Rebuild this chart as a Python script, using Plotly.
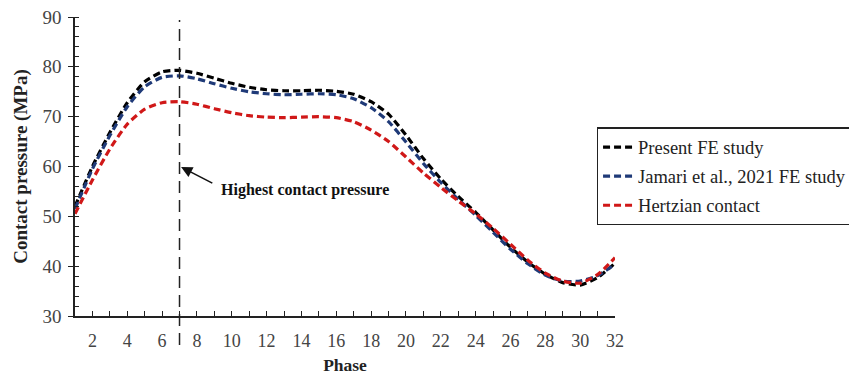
import plotly.graph_objects as go

# Phase index and contact pressure (MPa) for each model
phase = list(range(1, 33))

present_fe = [52.0, 60.0, 66.8, 72.8, 77.0, 79.0, 79.3, 78.7, 77.7, 76.7, 75.9, 75.4,
              75.2, 75.2, 75.3, 75.1, 74.5, 73.0, 70.5, 66.3, 61.6, 57.5, 54.0, 50.8,
              47.3, 43.8, 40.8, 38.4, 36.7, 36.2, 37.7, 40.6]
jamari_fe = [51.5, 59.5, 66.2, 72.0, 76.0, 77.9, 78.2, 77.6, 76.6, 75.7, 75.0, 74.6,
             74.4, 74.5, 74.6, 74.4, 73.6, 71.8, 69.0, 64.9, 60.6, 56.8, 53.4, 50.2,
             46.8, 43.4, 40.5, 38.2, 37.0, 37.0, 38.1, 40.4]
hertzian = [50.5, 57.3, 63.5, 68.5, 71.5, 72.8, 73.0, 72.5, 71.6, 70.8, 70.2, 69.9,
            69.8, 69.9, 70.0, 69.8, 69.0, 67.3, 65.0, 61.9, 58.7, 55.8, 53.1, 50.5,
            47.6, 44.4, 41.2, 38.6, 37.0, 36.6, 38.3, 41.7]

series_names = ["Present FE study", "Jamari et al., 2021 FE study", "Hertzian contact"]
series_colors = ["#000000", "#1f3a78", "#d01818"]
peak_phase = 7

SERIF = "Liberation Serif"

fig = go.Figure()
for i, (name, vals, col) in enumerate(zip(series_names, [present_fe, jamari_fe, hertzian], series_colors)):
    fig.add_trace(go.Scatter(
        x=phase, y=vals, name=name, mode="lines", legendgroup=f"g{i}",
        line=dict(color=col, width=3.2, dash="7px,4px", shape="spline", smoothing=0.6),
    ))

# cross-tick overlay axes (inside half of the major ticks)
fig.add_trace(go.Scatter(x=[None], y=[None], xaxis="x2", yaxis="y2", showlegend=False))

# marker for the phase of highest contact pressure
fig.add_shape(type="line", xref="x", yref="paper", x0=peak_phase, x1=peak_phase,
              y0=-0.097, y1=0.99, line=dict(color="#222222", width=1.5, dash="12px,7px"))

fig.add_annotation(x=7.09, y=59.9, ax=8.97, ay=56.5, xref="x", yref="y", axref="x", ayref="y",
                   text="", showarrow=True, arrowhead=2, arrowsize=1.4, arrowwidth=1.6,
                   arrowcolor="#111111")
fig.add_annotation(x=9.25, y=55.3, xref="x", yref="y", xanchor="left", yanchor="middle",
                   text="<b>Highest contact pressure</b>", showarrow=False,
                   font=dict(family=SERIF, size=16, color="#111111"))

fig.update_layout(
    width=849, height=377,
    margin=dict(l=75, r=234, t=17, b=61, autoexpand=False),
    paper_bgcolor="white", plot_bgcolor="white",
    font=dict(family=SERIF, color="#333333"),
    showlegend=True,
    legend=dict(xref="container", yref="container", x=0.703, y=0.662,
                xanchor="left", yanchor="top",
                bordercolor="#222222", borderwidth=1.2, bgcolor="white",
                font=dict(family=SERIF, size=18.5, color="#222222"),
                tracegroupgap=2, itemwidth=30),
    xaxis=dict(range=[1, 32], tickmode="linear", tick0=2, dtick=2, automargin=False,
               ticks="inside", ticklen=5, tickwidth=1.4, tickcolor="#222222",
               minor=dict(dtick=1, tick0=1, ticks="inside", ticklen=5, tickwidth=1.4, tickcolor="#222222"),
               showline=True, linecolor="#222222", linewidth=1.6, showgrid=False, zeroline=False,
               tickfont=dict(family=SERIF, size=18, color="#444444"), ticklabelstandoff=8,
               title=dict(text="<b>Phase</b>", font=dict(family=SERIF, size=17.5, color="#222222"), standoff=8)),
    yaxis=dict(range=[30, 90], tickmode="linear", tick0=30, dtick=10, automargin=False,
               ticks="outside", ticklen=5, tickwidth=1.4, tickcolor="#222222",
               minor=dict(dtick=2, ticks="inside", ticklen=4, tickwidth=1.4, tickcolor="#222222"),
               showline=True, linecolor="#222222", linewidth=1.6, showgrid=False, zeroline=False,
               tickfont=dict(family=SERIF, size=19, color="#444444"), ticklabelstandoff=3,
               title=dict(text="<b>Contact pressure (MPa)</b>", font=dict(family=SERIF, size=19, color="#222222"), standoff=10)),
    xaxis2=dict(range=[1, 32], overlaying="x", showticklabels=False, automargin=False,
                showgrid=False, zeroline=False, showline=False, ticks=""),
    yaxis2=dict(range=[30, 90], overlaying="y", tickmode="linear", tick0=30, dtick=10, automargin=False,
                ticks="inside", ticklen=4, tickwidth=1.4, tickcolor="#222222",
                showticklabels=False, showgrid=False, zeroline=False, showline=False),
)

fig.write_html("out.html")
